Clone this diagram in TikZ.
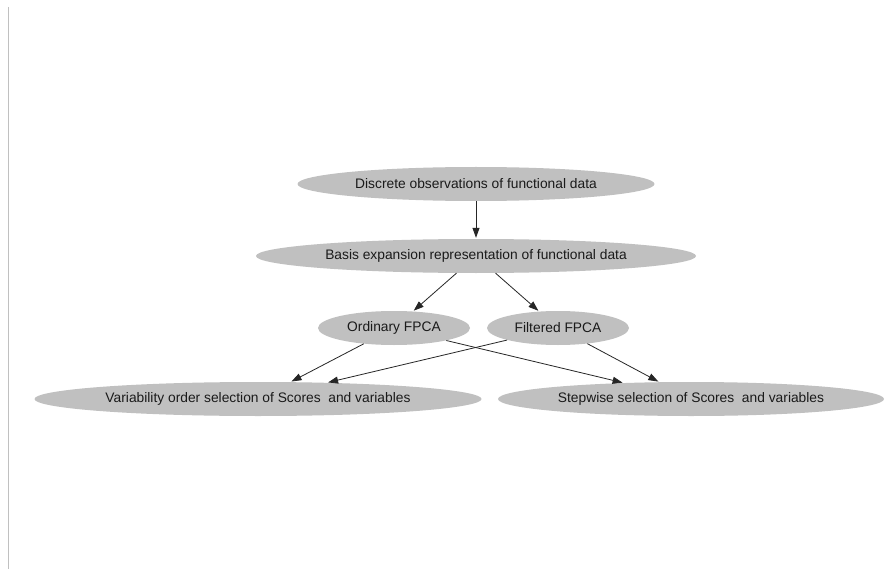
\documentclass[tikz,border=0pt]{standalone}
\usepackage{fontspec}
\setmainfont{Liberation Sans}
\usetikzlibrary{shapes.geometric,arrows.meta}
\definecolor{nodegray}{HTML}{C0C0C0}
\definecolor{txtgray}{HTML}{1A1A1A}
\tikzset{
  ell/.style={ellipse, fill=nodegray, draw=none, inner sep=0pt, minimum height=34pt,
    font=\fontsize{13.8}{16}\selectfont, text=txtgray},
  edge/.style={draw=black!85, line width=0.8pt, -{Triangle[length=10pt,width=7pt]}, shorten >=1pt}
}
\begin{document}
\begin{tikzpicture}[x=1pt,y=-1pt]
\useasboundingbox (0,0) rectangle (885,569);
\fill[white] (0,0) rectangle (885,569);
\draw[nodegray, line width=1.2pt] (8.7,7) -- (8.7,569);
\node[ell, minimum width=357pt] (disc) at (476,184) {Discrete observations of functional data};
\node[ell, minimum width=440pt] (basis) at (476,256) {Basis expansion representation of functional data};
\node[ell, minimum width=152pt] (ord) at (394,328) {Ordinary FPCA};
\node[ell, minimum width=142pt] (filt) at (558,328) {Filtered FPCA};
\node[ell, minimum width=447pt] (var) at (258,399) {Variability order selection of Scores\ \ and variables};
\node[ell, minimum width=386pt] (step) at (691,399) {Stepwise selection of Scores\ \ and variables};
\draw[edge] (disc) -- (basis);
\draw[edge] (basis) -- (ord);
\draw[edge] (basis) -- (filt);
\draw[edge] (ord) -- (var);
\draw[edge] (filt) -- (var);
\draw[edge] (ord) -- (step);
\draw[edge] (filt) -- (step);
\end{tikzpicture}
\end{document}
